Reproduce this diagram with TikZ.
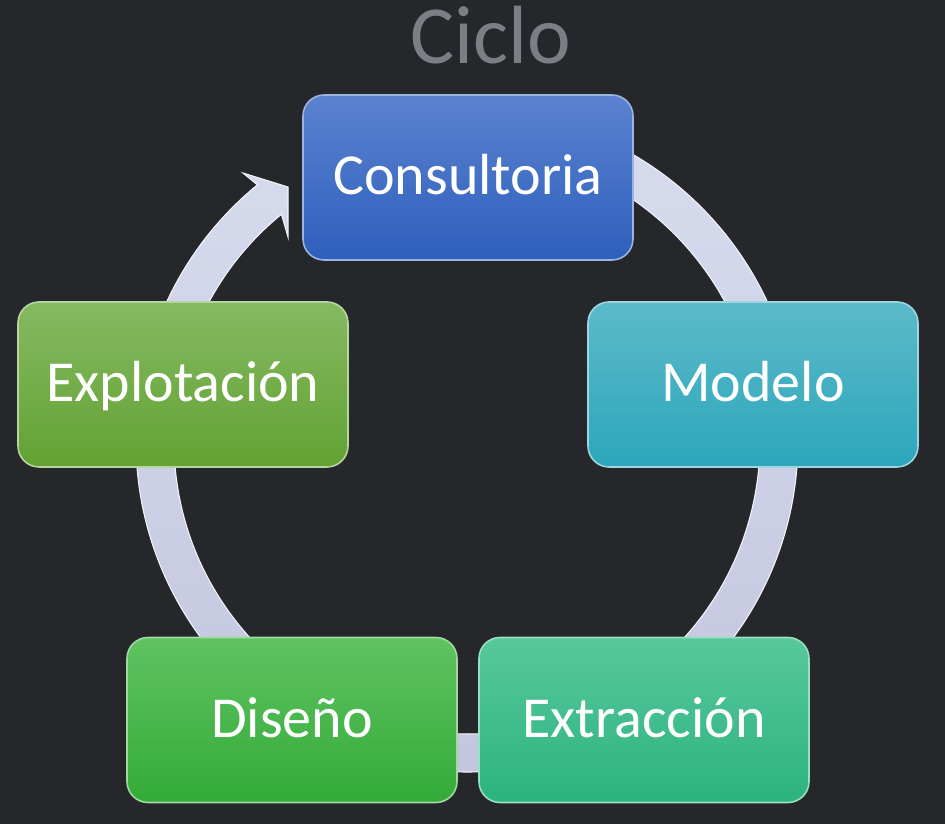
\documentclass[tikz,border=0pt]{standalone}
\usepackage{fontspec}
\setmainfont{Carlito}
\usepackage{tikz}
\usetikzlibrary{calc}
\definecolor{bgcol}{HTML}{25272B}
\definecolor{titlecol}{HTML}{7A7E85}
\definecolor{ringtop}{HTML}{D8DCEE}
\definecolor{ringbot}{HTML}{C2C5DE}
\definecolor{consA}{HTML}{5A82CF}
\definecolor{consB}{HTML}{2F5FBD}
\definecolor{modA}{HTML}{5CBAC9}
\definecolor{modB}{HTML}{2CA6BC}
\definecolor{extA}{HTML}{57C89C}
\definecolor{extB}{HTML}{2CB37E}
\definecolor{disA}{HTML}{60C262}
\definecolor{disB}{HTML}{33AB38}
\definecolor{expA}{HTML}{86B962}
\definecolor{expB}{HTML}{62A232}
\tikzset{stage/.style={rounded corners=0.42cm,minimum width=6.6cm,minimum height=3.3cm,text=white,
  font=\fontsize{33}{40}\selectfont,text height=0.8cm,text depth=0.1cm,line width=0.9pt}}

\begin{document}
\begin{tikzpicture}
\fill[bgcol](0,0)rectangle(18.9,16.48);
\useasboundingbox (0,0) rectangle (18.9,16.48);
\coordinate (ctr) at (9.34,7.66);
\node[text=titlecol,font=\fontsize{47}{56}\selectfont] (title) at (9.82,15.78) {Ciclo};
\shade[top color=ringtop,bottom color=ringbot,draw=white!70!ringtop,line width=0.6pt]
  ($(ctr)+(85:6.62)$) arc[start angle=85,end angle=-230.7,radius=6.62]
  --(4.86,13.02)--(5.76,12.74)--(5.76,11.74)--($(ctr)+(-230.7:5.86)$)
  arc[start angle=-230.7,end angle=85,radius=5.86]--cycle;
\node[stage,top color=consA,bottom color=consB,draw=consA!60!white] (cons) at (9.36,12.93) {Consultoria};
\node[stage,top color=modA,bottom color=modB,draw=modA!60!white] (mod) at (15.06,8.79) {Modelo};
\node[stage,top color=extA,bottom color=extB,draw=extA!60!white] (ext) at (12.88,2.08) {Extracción};
\node[stage,top color=disA,bottom color=disB,draw=disA!60!white] (dis) at (5.84,2.08) {Diseño};
\node[stage,top color=expA,bottom color=expB,draw=expA!60!white] (expl) at (3.66,8.79) {Explotación};
\end{tikzpicture}
\end{document}
